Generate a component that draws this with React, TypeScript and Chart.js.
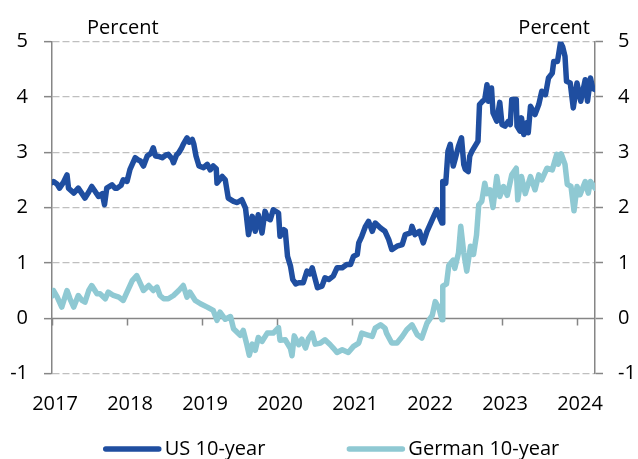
import React, { useEffect, useRef } from 'react';
import { Chart, registerables } from 'chart.js';

Chart.register(...registerables);

// ---------- data ----------
const seriesLabels = ['US 10-year', 'German 10-year'];
const axisUnit = 'Percent';
const xTickValues = [2017, 2018, 2019, 2020, 2021, 2022, 2023, 2024];
const xTickLabels = ['2017', '2018', '2019', '2020', '2021', '2022', '2023', '2024'];
const yMin = -1;
const yMax = 5;

const usDates = [
  2017.00, 2017.02, 2017.07, 2017.10, 2017.15, 2017.20, 2017.22, 2017.29, 2017.35, 2017.40,
  2017.44, 2017.49, 2017.53, 2017.58, 2017.62, 2017.67, 2017.70, 2017.73, 2017.80, 2017.84,
  2017.87, 2017.92, 2017.95, 2018.00, 2018.04, 2018.11, 2018.15, 2018.18, 2018.22, 2018.27,
  2018.32, 2018.35, 2018.38, 2018.43, 2018.47, 2018.52, 2018.55, 2018.60, 2018.62, 2018.66,
  2018.69, 2018.73, 2018.75, 2018.80, 2018.83, 2018.87, 2018.89, 2018.92, 2018.96, 2019.02,
  2019.07, 2019.11, 2019.15, 2019.19, 2019.20, 2019.27, 2019.31, 2019.35, 2019.42, 2019.47,
  2019.53, 2019.58, 2019.62, 2019.67, 2019.71, 2019.75, 2019.80, 2019.84, 2019.88, 2019.91,
  2019.95, 2020.02, 2020.04, 2020.09, 2020.11, 2020.14, 2020.18, 2020.21, 2020.25, 2020.29,
  2020.35, 2020.40, 2020.44, 2020.47, 2020.51, 2020.54, 2020.60, 2020.64, 2020.69, 2020.75,
  2020.80, 2020.87, 2020.93, 2020.98, 2021.02, 2021.07, 2021.09, 2021.13, 2021.18, 2021.22,
  2021.27, 2021.31, 2021.38, 2021.44, 2021.49, 2021.53, 2021.60, 2021.67, 2021.71, 2021.78,
  2021.80, 2021.84, 2021.90, 2021.95, 2022.00, 2022.07, 2022.13, 2022.18, 2022.20, 2022.21,
  2022.25, 2022.28, 2022.31, 2022.35, 2022.38, 2022.42, 2022.46, 2022.49, 2022.51, 2022.55,
  2022.57, 2022.60, 2022.64, 2022.68, 2022.70, 2022.74, 2022.77, 2022.80, 2022.82, 2022.86,
  2022.88, 2022.93, 2022.97, 2023.00, 2023.04, 2023.08, 2023.11, 2023.13, 2023.19, 2023.20,
  2023.24, 2023.26, 2023.29, 2023.33, 2023.35, 2023.38, 2023.44, 2023.49, 2023.53, 2023.58,
  2023.62, 2023.67, 2023.69, 2023.74, 2023.78, 2023.81, 2023.84, 2023.86, 2023.91, 2023.95,
  2024.00, 2024.05, 2024.11, 2024.14, 2024.18, 2024.21, 2024.24,
];
const usYields = [
  2.45, 2.47, 2.42, 2.35, 2.45, 2.59, 2.35, 2.26, 2.35, 2.25,
  2.17, 2.28, 2.38, 2.28, 2.20, 2.25, 2.05, 2.35, 2.41, 2.35,
  2.35, 2.40, 2.50, 2.47, 2.69, 2.90, 2.86, 2.84, 2.75, 2.93,
  2.98, 3.08, 2.93, 2.92, 2.90, 2.95, 2.96, 2.88, 2.81, 2.95,
  2.99, 3.08, 3.14, 3.26, 3.18, 3.23, 3.15, 2.93, 2.75, 2.72,
  2.78, 2.68, 2.75, 2.70, 2.44, 2.56, 2.50, 2.17, 2.11, 2.09,
  2.14, 1.99, 1.51, 1.84, 1.57, 1.87, 1.54, 1.93, 1.80, 1.78,
  1.96, 1.90, 1.48, 1.60, 1.58, 1.12, 0.94, 0.70, 0.62, 0.64,
  0.64, 0.85, 0.80, 0.91, 0.70, 0.55, 0.58, 0.73, 0.70, 0.76,
  0.91, 0.91, 0.97, 0.97, 1.12, 1.15, 1.36, 1.48, 1.66, 1.75,
  1.57, 1.72, 1.63, 1.57, 1.42, 1.24, 1.30, 1.33, 1.51, 1.54,
  1.66, 1.51, 1.57, 1.36, 1.57, 1.78, 1.96, 1.78, 1.72, 2.47,
  2.44, 3.02, 3.14, 2.75, 2.90, 3.11, 3.26, 2.78, 2.69, 2.65,
  2.93, 3.02, 3.11, 3.20, 3.86, 3.92, 3.95, 4.22, 3.92, 4.16,
  3.71, 3.56, 3.90, 3.50, 3.47, 3.55, 3.50, 3.95, 3.95, 3.47,
  3.38, 3.62, 3.32, 3.53, 3.35, 3.83, 3.68, 3.86, 4.10, 4.04,
  4.34, 4.43, 4.64, 4.64, 4.98, 4.90, 4.73, 4.28, 4.25, 3.80,
  4.25, 3.92, 4.31, 3.92, 4.34, 4.15, 4.13,
];

const deDates = [
  2017.00, 2017.02, 2017.07, 2017.13, 2017.20, 2017.24, 2017.29, 2017.35, 2017.40, 2017.44,
  2017.49, 2017.53, 2017.60, 2017.64, 2017.71, 2017.75, 2017.82, 2017.89, 2017.95, 2018.00,
  2018.07, 2018.13, 2018.18, 2018.22, 2018.29, 2018.35, 2018.40, 2018.44, 2018.49, 2018.55,
  2018.62, 2018.69, 2018.75, 2018.80, 2018.84, 2018.91, 2018.98, 2019.07, 2019.15, 2019.20,
  2019.24, 2019.31, 2019.38, 2019.42, 2019.51, 2019.55, 2019.60, 2019.63, 2019.67, 2019.71,
  2019.75, 2019.80, 2019.87, 2019.95, 2020.02, 2020.04, 2020.11, 2020.18, 2020.20, 2020.23,
  2020.29, 2020.33, 2020.38, 2020.42, 2020.47, 2020.51, 2020.58, 2020.64, 2020.71, 2020.75,
  2020.80, 2020.87, 2020.95, 2021.02, 2021.09, 2021.13, 2021.20, 2021.27, 2021.31, 2021.38,
  2021.44, 2021.46, 2021.53, 2021.60, 2021.67, 2021.73, 2021.80, 2021.87, 2021.93, 2022.00,
  2022.07, 2022.11, 2022.16, 2022.20, 2022.21, 2022.26, 2022.29, 2022.35, 2022.37, 2022.42,
  2022.45, 2022.49, 2022.53, 2022.58, 2022.62, 2022.66, 2022.69, 2022.73, 2022.77, 2022.80,
  2022.84, 2022.88, 2022.93, 2022.97, 2023.02, 2023.07, 2023.13, 2023.19, 2023.21, 2023.26,
  2023.31, 2023.38, 2023.44, 2023.49, 2023.53, 2023.60, 2023.67, 2023.73, 2023.75, 2023.79,
  2023.84, 2023.87, 2023.92, 2023.96, 2024.00, 2024.04, 2024.11, 2024.15, 2024.18, 2024.24,
];
const deYields = [
  0.40, 0.50, 0.38, 0.20, 0.50, 0.35, 0.20, 0.41, 0.32, 0.29,
  0.50, 0.59, 0.44, 0.44, 0.35, 0.47, 0.41, 0.38, 0.32, 0.47,
  0.68, 0.77, 0.62, 0.50, 0.59, 0.50, 0.56, 0.41, 0.35, 0.35,
  0.41, 0.50, 0.59, 0.38, 0.47, 0.32, 0.26, 0.20, 0.14, -0.04,
  0.11, -0.02, 0.03, -0.19, -0.31, -0.22, -0.49, -0.67, -0.47, -0.58,
  -0.35, -0.42, -0.27, -0.27, -0.17, -0.40, -0.39, -0.55, -0.68, -0.32,
  -0.48, -0.38, -0.54, -0.37, -0.27, -0.47, -0.45, -0.39, -0.48, -0.54,
  -0.62, -0.57, -0.62, -0.51, -0.45, -0.27, -0.30, -0.33, -0.18, -0.12,
  -0.18, -0.27, -0.45, -0.45, -0.33, -0.21, -0.12, -0.30, -0.36, -0.09,
  0.05, 0.30, 0.18, -0.03, 0.58, 0.62, 0.95, 1.05, 0.90, 1.18,
  1.66, 1.18, 0.85, 1.30, 1.15, 1.50, 2.05, 2.11, 2.44, 2.25,
  2.32, 2.00, 2.56, 2.20, 2.38, 2.22, 2.59, 2.71, 2.14, 2.56,
  2.25, 2.56, 2.32, 2.59, 2.50, 2.71, 2.68, 2.96, 2.78, 2.97,
  2.78, 2.42, 2.38, 1.94, 2.38, 2.23, 2.47, 2.26, 2.47, 2.35,
];

// ---------- styles ----------
const US_COLOR = '#1f4ea0';
const DE_COLOR = '#8fc9d3';
const GRID_COLOR = '#bfbfbf';
const AXIS_COLOR = '#868686';
const FONT_FAMILY = "'Open Sans', 'Liberation Sans', sans-serif";
const FONT_SIZE = 20;
const TEXT_COLOR = '#000000';
const LINE_WIDTH = 5.5;

const toPoints = (xs: number[], ys: number[]) => xs.map((x, i) => ({ x, y: ys[i] }));

const decorPlugin = {
  id: 'decor',
  beforeDatasetsDraw(chart: any) {
    const { ctx, chartArea, scales } = chart;
    const y0 = Math.round(scales.y.getPixelForValue(0)) + 0.5;
    ctx.save();
    ctx.strokeStyle = AXIS_COLOR;
    ctx.lineWidth = 1.5;
    ctx.setLineDash([]);
    ctx.beginPath();
    ctx.moveTo(chartArea.left, y0);
    ctx.lineTo(chartArea.right, y0);
    xTickValues.forEach((v) => {
      const x = Math.round(scales.x.getPixelForValue(v)) + 0.5;
      ctx.moveTo(x, y0);
      ctx.lineTo(x, y0 + 7);
    });
    ctx.stroke();
    ctx.restore();
  },
  afterDraw(chart: any) {
    const { ctx, chartArea } = chart;
    ctx.save();
    ctx.font = `${FONT_SIZE}px ${FONT_FAMILY}`;
    ctx.fillStyle = TEXT_COLOR;
    ctx.textBaseline = 'alphabetic';
    // axis unit labels
    ctx.textAlign = 'left';
    ctx.fillText(axisUnit, chartArea.left + 35, chartArea.top - 8);
    ctx.textAlign = 'right';
    ctx.fillText(axisUnit, chartArea.right - 5, chartArea.top - 8);

    // legend
    const colors = [US_COLOR, DE_COLOR];
    const sample = 57;
    const textGap = 4;
    const itemGap = 82;
    const widths = seriesLabels.map((l) => sample + textGap + ctx.measureText(l).width);
    const total = widths.reduce((a, b) => a + b, 0) + itemGap * (seriesLabels.length - 1);
    const centerX = (chartArea.left + chartArea.right) / 2 + 8;
    const ly = chart.height - 10;
    let x = centerX - total / 2;
    ctx.textAlign = 'left';
    ctx.textBaseline = 'middle';
    seriesLabels.forEach((label, i) => {
      ctx.strokeStyle = colors[i];
      ctx.lineWidth = LINE_WIDTH;
      ctx.lineCap = 'round';
      ctx.beginPath();
      ctx.moveTo(x + 2, ly);
      ctx.lineTo(x + sample - 2, ly);
      ctx.stroke();
      ctx.fillStyle = TEXT_COLOR;
      ctx.fillText(label, x + sample + textGap, ly);
      x += widths[i] + itemGap;
    });
    ctx.restore();
  },
};

export default function App() {
  const canvasRef = useRef<HTMLCanvasElement | null>(null);

  useEffect(() => {
    const canvas = canvasRef.current;
    if (!canvas) return;
    const font = { family: FONT_FAMILY, size: FONT_SIZE };
    const chart = new Chart(canvas, {
      type: 'line',
      data: {
        datasets: [
          {
            label: seriesLabels[1],
            data: toPoints(deDates, deYields),
            borderColor: DE_COLOR,
            backgroundColor: DE_COLOR,
            borderWidth: LINE_WIDTH,
            pointRadius: 0,
            tension: 0,
            borderJoinStyle: 'round',
            borderCapStyle: 'round',
            yAxisID: 'y',
          },
          {
            label: seriesLabels[0],
            data: toPoints(usDates, usYields),
            borderColor: US_COLOR,
            backgroundColor: US_COLOR,
            borderWidth: LINE_WIDTH,
            pointRadius: 0,
            tension: 0,
            borderJoinStyle: 'round',
            borderCapStyle: 'round',
            yAxisID: 'y',
          },
        ],
      },
      options: {
        animation: false,
        responsive: false,
        devicePixelRatio: 1,
        parsing: false,
        layout: { padding: { top: 41.5, left: 0, right: 0, bottom: 0 } },
        plugins: {
          legend: { display: false },
          tooltip: { enabled: false },
        },
        scales: {
          x: {
            type: 'linear',
            min: xTickValues[0],
            max: usDates[usDates.length - 1],
            afterBuildTicks: (s: any) => {
              s.ticks = xTickValues.map((v) => ({ value: v }));
            },
            ticks: {
              callback: (_v: any, i: number) => xTickLabels[i],
              padding: 19,
              labelOffset: 3,
              maxRotation: 0,
              autoSkip: false,
              color: TEXT_COLOR,
              font,
            },
            grid: { display: false, drawTicks: false },
            border: { display: false },
            afterFit: (s: any) => {
              s.height = 85.5;
            },
          },
          y: {
            type: 'linear',
            position: 'left',
            min: yMin,
            max: yMax,
            ticks: { stepSize: 1, padding: 16, color: TEXT_COLOR, font },
            grid: {
              color: (c: any) => (c.tick && c.tick.value === 0 ? 'rgba(0,0,0,0)' : GRID_COLOR),
              lineWidth: 1.3,
              drawTicks: true,
              tickLength: 8,
              tickColor: AXIS_COLOR,
              tickWidth: 1.5,
              tickBorderDash: [],
            },
            border: { display: true, color: AXIS_COLOR, width: 1.5, dash: [7, 3] },
            afterFit: (s: any) => {
              s.width = 52;
            },
          },
          y2: {
            type: 'linear',
            position: 'right',
            min: yMin,
            max: yMax,
            ticks: { stepSize: 1, padding: 15, color: TEXT_COLOR, font },
            grid: {
              drawOnChartArea: false,
              drawTicks: true,
              tickLength: 8,
              tickColor: AXIS_COLOR,
              tickWidth: 1.5,
              color: AXIS_COLOR,
            },
            border: { display: true, color: AXIS_COLOR, width: 1.5 },
            afterFit: (s: any) => {
              s.width = 43;
            },
          },
        },
      } as any,
      plugins: [decorPlugin],
    });
    return () => chart.destroy();
  }, []);

  return (
    <div style={{ position: 'absolute', left: 0, top: 0, width: 638, height: 459, background: '#fff' }}>
      <canvas ref={canvasRef} width={638} height={459} style={{ display: 'block' }} />
    </div>
  );
}
